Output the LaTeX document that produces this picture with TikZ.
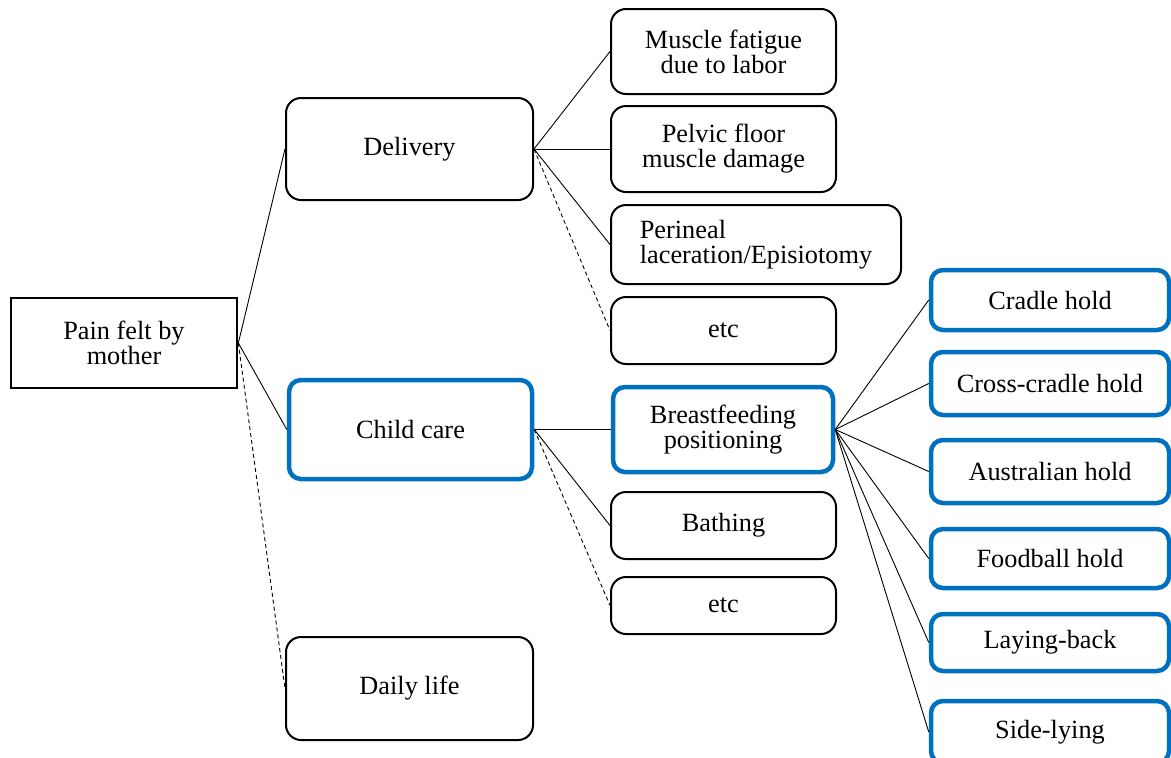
\documentclass[tikz,border=0pt]{standalone}
\usepackage{fontspec}
\setmainfont{Liberation Serif}
\definecolor{boxblue}{HTML}{0070C0}
\begin{document}
\begin{tikzpicture}[x=1pt,y=-1pt,
  every node/.style={font=\fontsize{26.3}{25}\selectfont, align=center, inner sep=0pt},
  rootbox/.style={draw=black, line width=2.7pt, rectangle},
  blackbox/.style={draw=black, line width=2pt, rounded corners=15pt},
  bluebox/.style={draw=boxblue, line width=4.5pt, rounded corners=12pt},
  link/.style={draw=black, line width=0.9pt},
  dlink/.style={draw=black, line width=0.9pt, dash pattern=on 4pt off 3pt}]
\useasboundingbox (0,0) rectangle (1171,758);
% level 0
\node[rootbox, minimum width=226pt, minimum height=90pt] (root) at (124,343) {Pain felt by\\mother};
% level 1
\node[blackbox, minimum width=247pt, minimum height=102pt] (deliv) at (409.5,149) {Delivery};
\node[bluebox, minimum width=243pt, minimum height=99pt] (care) at (410.5,429.5) {Child care};
\node[blackbox, minimum width=247pt, minimum height=103pt] (daily) at (409.5,688.5) {Daily life};
% level 2 (delivery)
\node[blackbox, minimum width=225pt, minimum height=85pt] (muscle) at (723.5,51.5) {Muscle fatigue\\due to labor};
\node[blackbox, minimum width=225pt, minimum height=86pt] (pelvic) at (723.5,149) {Pelvic floor\\muscle damage};
\node[blackbox, minimum width=290pt, minimum height=79pt, align=left] (perin) at (756,244.5) {Perineal\\laceration/Episiotomy};
\node[blackbox, minimum width=225pt, minimum height=67pt] (etca) at (723.5,330.5) {etc};
% level 2 (child care)
\node[bluebox, minimum width=220pt, minimum height=85pt] (breast) at (723,429.5) {Breastfeeding\\positioning};
\node[blackbox, minimum width=225pt, minimum height=67pt] (bath) at (723.5,525.5) {Bathing};
\node[blackbox, minimum width=225pt, minimum height=57pt] (etcb) at (723.5,605.5) {etc};
% level 3
\node[bluebox, minimum width=238pt, minimum height=60pt] (cradle) at (1050,300) {Cradle hold};
\node[bluebox, minimum width=238pt, minimum height=63pt] (cross) at (1050,383.5) {Cross-cradle hold};
\node[bluebox, minimum width=238pt, minimum height=63pt] (austr) at (1050,471.5) {Australian hold};
\node[bluebox, minimum width=238pt, minimum height=59pt] (foot) at (1050,558.5) {Foodball hold};
\node[bluebox, minimum width=238pt, minimum height=57pt] (lay) at (1050,642.5) {Laying-back};
\node[bluebox, minimum width=238pt, minimum height=62pt] (side) at (1050,732) {Side-lying};
% connectors
\draw[link] (root.east) -- (deliv.west);
\draw[link] (root.east) -- (care.west);
\draw[dlink] (root.east) -- (daily.west);
\draw[link] (deliv.east) -- (muscle.west);
\draw[link] (deliv.east) -- (pelvic.west);
\draw[link] (deliv.east) -- (perin.west);
\draw[dlink] (deliv.east) -- (etca.west);
\draw[link] (care.east) -- (breast.west);
\draw[link] (care.east) -- (bath.west);
\draw[dlink] (care.east) -- (etcb.west);
\foreach \t in {cradle,cross,austr,foot,lay,side}
  \draw[link] (breast.east) -- (\t.west);
\end{tikzpicture}
\end{document}
